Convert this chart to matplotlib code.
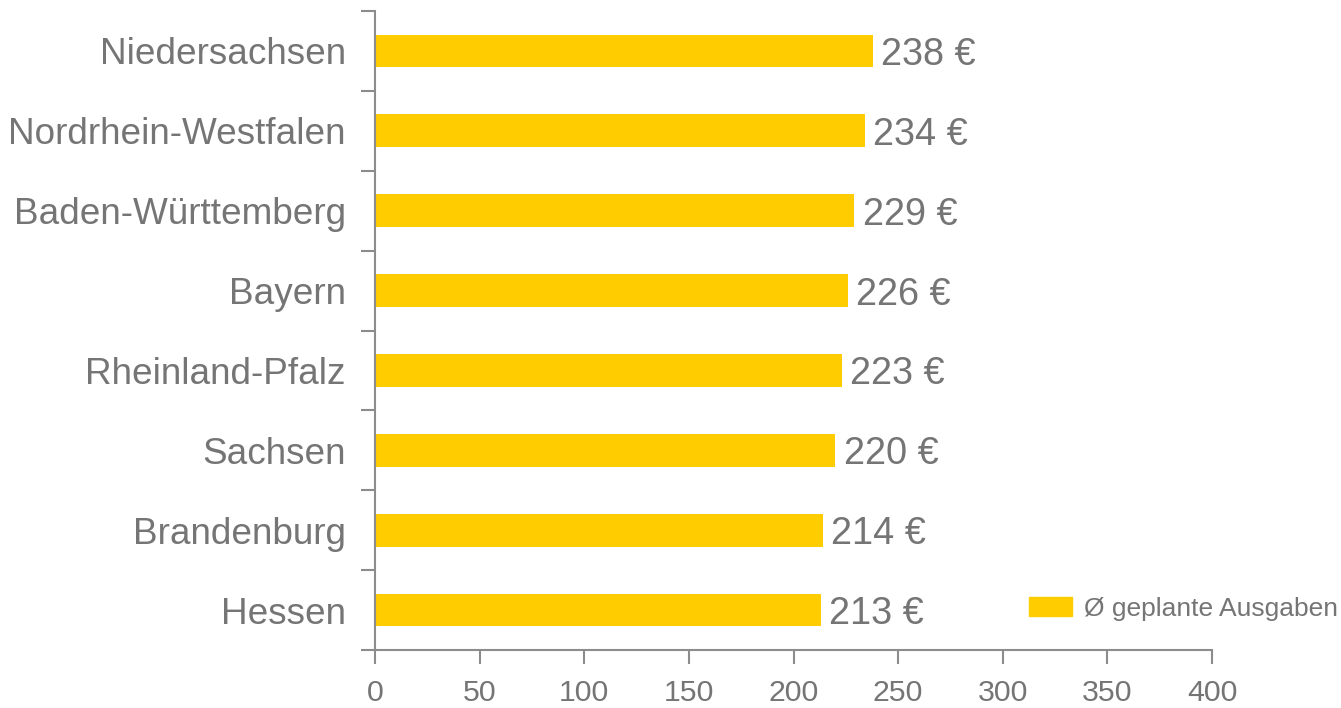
import matplotlib
matplotlib.use('Agg')
import matplotlib.pyplot as plt
from matplotlib.patches import Patch

# data, top to bottom as in the chart
states = ['Niedersachsen', 'Nordrhein-Westfalen', 'Baden-Württemberg', 'Bayern',
          'Rheinland-Pfalz', 'Sachsen', 'Brandenburg', 'Hessen']
spending = [238, 234, 229, 226, 223, 220, 214, 213]
xticks = [0, 50, 100, 150, 200, 250, 300, 350, 400]
legend_label = 'Ø geplante Ausgaben'

BAR = '#FFCC00'
AXIS = '#8c8c8c'
TEXT = '#757575'

plt.rcParams['font.family'] = ['Liberation Sans', 'DejaVu Sans']

fig = plt.figure(figsize=(13.41, 7.08), dpi=100)
ax = fig.add_axes([375 / 1341, 1 - 650 / 708, (1212 - 375) / 1341, (650 - 11) / 708])

n = len(states)
ypos = list(range(n))[::-1]
ax.barh(ypos, spending, height=0.41, color=BAR)

for y, v in zip(ypos, spending):
    ax.text(v + 4, y, '%d €' % v, va='center_baseline', ha='left', fontsize=27.3, color=TEXT)

ax.set_xlim(0, 400)
ax.set_ylim(-0.5, n - 0.5)
ax.set_xticks(xticks)
ax.set_xticklabels([str(t) for t in xticks])

# ticks on category boundaries, labels centered on the bars
ax.set_yticks([i - 0.5 for i in range(n + 1)])
ax.set_yticklabels([])
ax.set_yticks(ypos, minor=True)
ax.set_yticklabels(states, minor=True)
ax.tick_params(axis='y', which='minor', length=0, pad=21, labelsize=26.6, labelcolor=TEXT)
ax.tick_params(axis='y', which='major', length=10, width=1.5, color=AXIS)
ax.tick_params(axis='x', length=10, width=1.5, color=AXIS, labelsize=21.8,
               labelcolor=TEXT, pad=11)

for s in ['top', 'right']:
    ax.spines[s].set_visible(False)
for s in ['left', 'bottom']:
    ax.spines[s].set_color(AXIS)
    ax.spines[s].set_linewidth(1.5)

fig.legend(handles=[Patch(color=BAR, label=legend_label)], loc='center left',
           bbox_to_anchor=(1029 / 1341, 1 - 609 / 708), frameon=False,
           borderaxespad=0, borderpad=0,
           fontsize=19, labelcolor=TEXT, handlelength=1.63, handleheight=0.72,
           handletextpad=0.45)

fig.savefig('out.png', dpi=100)
